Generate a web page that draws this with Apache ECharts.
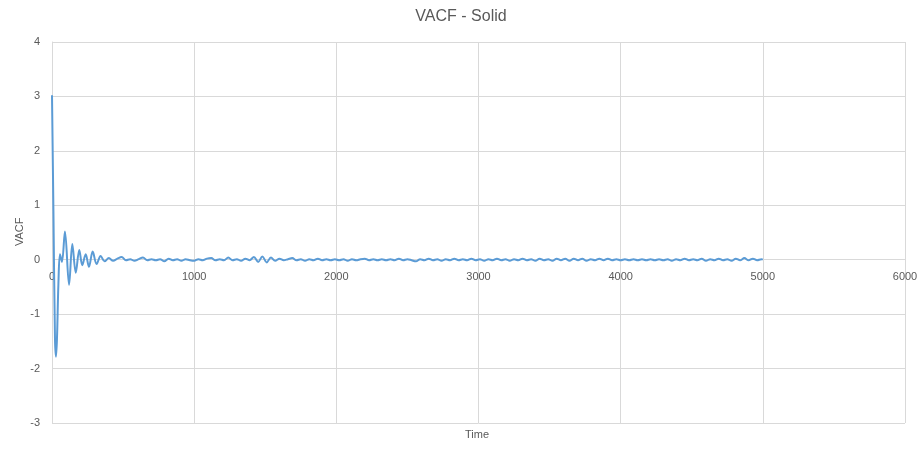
<!DOCTYPE html>
<html>
<head>
<meta charset="utf-8">
<script src="https://cdn.jsdelivr.net/npm/echarts@6/dist/echarts.min.js"></script>
<style>
html,body{margin:0;padding:0;background:#fff;}
#c{width:922px;height:451px;}
</style>
</head>
<body>
<div id="c"></div>
<script>
var titleText = "VACF - Solid";
var xAxisTitle = "Time";
var yAxisTitle = "VACF";

var time = [0, 10, 21, 28, 35, 45, 56, 70, 91, 120, 143, 167, 192, 213, 237, 260, 286, 314, 342,
  370, 400, 430, 460, 490, 520, 550, 580, 610, 640, 670, 700, 730, 760, 790, 820, 850, 880, 910, 940, 970,
  1000, 1030, 1060, 1090, 1120, 1150, 1180, 1210, 1240, 1270, 1300, 1330, 1360, 1390, 1420, 1450, 1480,
  1510, 1540, 1570, 1600, 1630, 1660, 1690, 1720, 1750, 1780, 1810, 1840, 1870, 1900, 1930, 1960, 1990,
  2020, 2050, 2080, 2110, 2140, 2170, 2200, 2230, 2260, 2290, 2320, 2350, 2380, 2410, 2440, 2470, 2500,
  2530, 2560, 2590, 2620, 2650, 2680, 2710, 2740, 2770, 2800, 2830, 2860, 2890, 2920, 2950, 2980,
  3010, 3040, 3070, 3100, 3130, 3160, 3190, 3220, 3250, 3280, 3310, 3340, 3370, 3400, 3430, 3460, 3490,
  3520, 3550, 3580, 3610, 3640, 3670, 3700, 3730, 3760, 3790, 3820, 3850, 3880, 3910, 3940, 3970,
  4000, 4030, 4060, 4090, 4120, 4150, 4180, 4210, 4240, 4270, 4300, 4330, 4360, 4390, 4420, 4450, 4480,
  4510, 4540, 4570, 4600, 4630, 4660, 4690, 4720, 4750, 4780, 4810, 4840, 4870, 4900, 4930, 4960, 4990, 5000];

var vacf = [3.02, 0.9, -1.45, -1.78, -1.45, -0.45, 0.1, -0.04, 0.52, -0.46, 0.29, -0.24, 0.18, -0.10, 0.10, -0.13, 0.15, -0.08, 0.07,
  -0.03, 0.03, -0.02, 0.02, 0.05, -0.01, 0.01, -0.02, 0.01, 0.04, -0.01, 0.01, -0.01, 0.01, -0.03, 0.02, -0.01, 0.01, -0.02, 0.01, -0.01,
  -0.02, 0.01, -0.01, 0.02, 0.03, -0.01, 0.01, -0.01, 0.04, -0.01, 0.01, -0.02, 0.02, -0.01, 0.05, -0.04, 0.06,
  -0.05, 0.04, -0.02, 0.02, -0.01, 0.01, 0.03, -0.01, 0.01, -0.02, 0.01, -0.01, 0.02, -0.01, 0.01, -0.01, 0.01,
  -0.01, 0.01, -0.02, 0.01, -0.01, 0.01, 0.02, -0.01, 0.01, -0.01, 0.01, -0.01, 0.01, -0.01, 0.02, -0.01, 0.01,
  -0.01, -0.03, 0.01, -0.01, 0.02, -0.01, 0.01, -0.02, 0.01, -0.01, 0.02, -0.01, 0.01, -0.01, 0.02, -0.01,
  0.01, -0.02, 0.01, -0.01, 0.02, -0.01, 0.01, -0.02, 0.01, -0.01, 0.02, -0.01, 0.01, -0.02, 0.02, -0.01, 0.01,
  -0.02, 0.02, -0.01, 0.02, -0.02, 0.02, -0.01, 0.02, -0.02, 0.01, -0.01, 0.02, -0.01, 0.02, -0.01, 0.01,
  -0.01, 0.01, -0.01, 0.01, -0.01, 0.01, -0.01, 0.01, -0.01, 0.01, -0.01, 0.01, -0.02, 0.01, -0.01, 0.02, -0.01,
  0.01, -0.01, 0.02, -0.02, 0.01, -0.01, 0.02, -0.01, 0.01, -0.02, 0.02, -0.01, 0.03, -0.01, 0.02, -0.01, 0.01, 0.0];

var xMin = 0, xMax = 6000, xStep = 1000;
var yMin = -3, yMax = 4, yStep = 1;

var seriesData = time.map(function (t, i) { return [t, vacf[i]]; });

var chart = echarts.init(document.getElementById('c'), null, {renderer: 'canvas'});
var font = "'Liberation Sans', Arial, sans-serif";
chart.setOption({
  animation: false,
  backgroundColor: '#ffffff',
  title: {
    text: titleText,
    left: 'center',
    top: 4,
    textStyle: {fontFamily: font, fontSize: 16, fontWeight: 'normal', color: '#595959'}
  },
  grid: {left: 52, right: 17, top: 42, bottom: 28, containLabel: false},
  xAxis: {
    type: 'value',
    min: xMin, max: xMax, interval: xStep,
    axisLine: {show: false, onZero: false},
    axisTick: {show: false},
    axisLabel: {color: '#595959', fontFamily: font, fontSize: 11, margin: -152,
      formatter: function (v) { return String(v); }},
    splitLine: {show: true, lineStyle: {color: '#d9d9d9', width: 1}}
  },
  yAxis: {
    type: 'value',
    min: yMin, max: yMax, interval: yStep,
    axisLine: {show: true, onZero: false, lineStyle: {color: '#d9d9d9', width: 1}},
    axisTick: {show: false},
    axisLabel: {color: '#595959', fontFamily: font, fontSize: 11, margin: 12},
    splitLine: {show: true, lineStyle: {color: '#d9d9d9', width: 1}}
  },
  graphic: [
    {type: 'text', left: 465, top: 429, style: {text: xAxisTitle, fill: '#595959', font: "11px " + font}},
    {type: 'text', x: 14, y: 246, rotation: Math.PI / 2, style: {text: yAxisTitle, fill: '#595959', font: "11px " + font}}
  ],
  series: [{
    type: 'line',
    data: seriesData,
    smooth: 0.35,
    showSymbol: false,
    lineStyle: {color: '#5b9bd5', width: 2},
    itemStyle: {color: '#5b9bd5'}
  }]
});
</script>
</body>
</html>
